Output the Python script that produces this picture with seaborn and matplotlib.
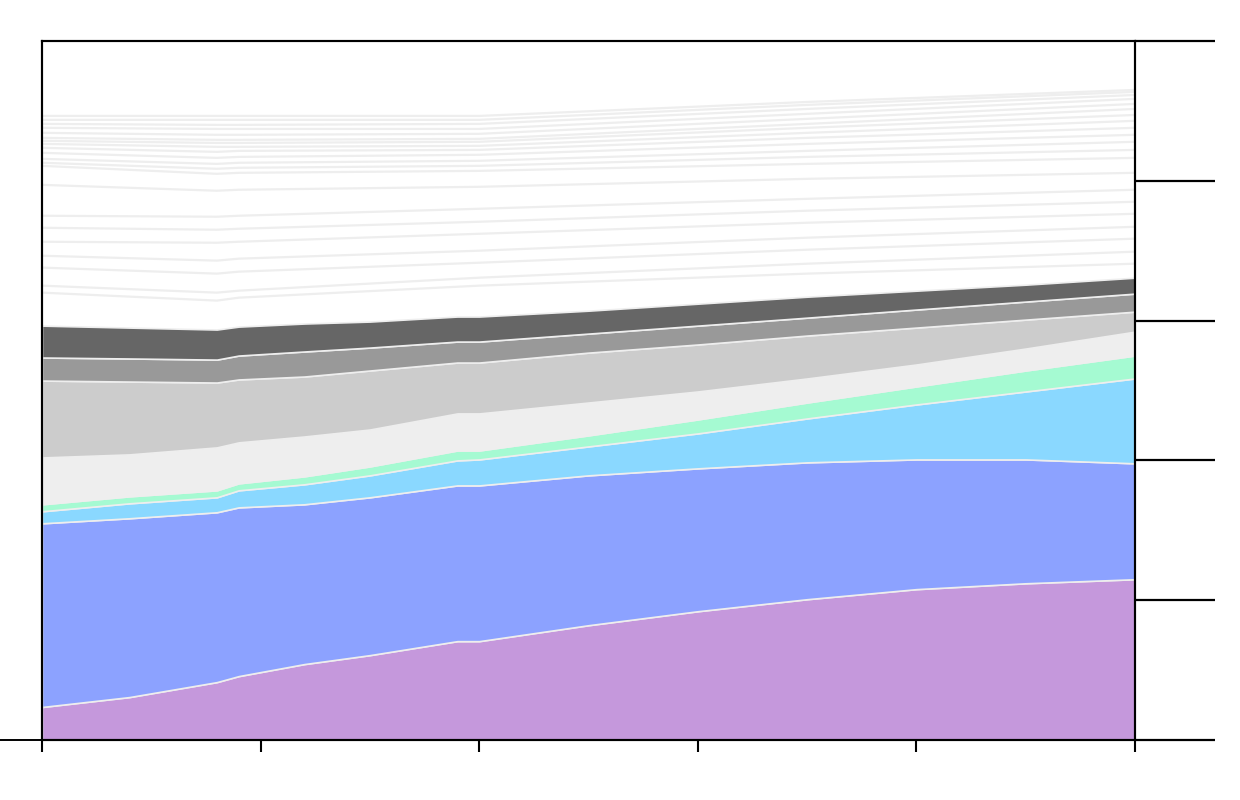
import numpy as np
import seaborn as sns
import matplotlib
matplotlib.use("Agg")
import matplotlib.pyplot as plt

sns.set_theme(style="white")

# main stacked layers (bottom to top), thickness per year
years = [0, 4, 8, 9, 12, 15, 19, 20, 25, 30, 35, 40, 45, 50]
purple = [2.36, 3.07, 4.14, 4.57, 5.43, 6.07, 7.07, 7.07, 8.21, 9.21, 10.07, 10.79, 11.21, 11.5]
blue = [13.14, 12.79, 12.15, 12.07, 11.43, 11.29, 11.14, 11.14, 10.72, 10.22, 9.79, 9.28, 8.86, 8.29]
light_blue = [0.86, 1.07, 1.07, 1.22, 1.43, 1.57, 1.79, 1.86, 2.07, 2.5, 3.14, 3.93, 4.86, 6.07]
green = [0.5, 0.5, 0.5, 0.5, 0.57, 0.64, 0.71, 0.64, 0.79, 1.0, 1.14, 1.29, 1.5, 1.64]
gray_eee = [3.35, 3.0, 3.07, 2.93, 2.85, 2.64, 2.65, 2.65, 2.35, 2.0, 1.72, 1.57, 1.57, 1.71]
gray_ccc = [5.5, 5.21, 4.64, 4.5, 4.29, 4.22, 3.64, 3.64, 3.57, 3.36, 3.07, 2.64, 2.07, 1.43]
gray_999 = [1.65, 1.65, 1.64, 1.71, 1.79, 1.64, 1.5, 1.5, 1.36, 1.35, 1.28, 1.29, 1.29, 1.29]
gray_666 = [2.28, 2.21, 2.15, 2.07, 2.0, 1.86, 1.79, 1.79, 1.64, 1.57, 1.5, 1.35, 1.21, 1.14]

colors = ["#c598dc", "#8ca2ff", "#8ad8ff", "#a5fad2", "#eeeeee", "#cccccc", "#999999", "#666666"]

# faint upper lines (cumulative levels), one row per year in upper_years
upper_years = [0, 8, 9, 20, 35, 50]
upper_levels = [
    [32.0, 32.5, 33.79, 34.64, 35.64, 36.64, 37.5, 39.71, 41.07, 41.29, 41.57, 42.0, 42.36, 42.64, 42.86, 43.07, 43.43, 43.79, 44.07, 44.36, 44.64],
    [31.43, 32.0, 33.36, 34.29, 35.57, 36.5, 37.43, 39.29, 40.5, 40.86, 41.21, 41.64, 42.07, 42.43, 42.71, 42.93, 43.29, 43.71, 44.0, 44.36, 44.64],
    [31.64, 32.14, 33.5, 34.43, 35.64, 36.57, 37.5, 39.36, 40.57, 40.93, 41.29, 41.71, 42.14, 42.43, 42.71, 42.93, 43.29, 43.71, 44.0, 44.36, 44.64],
    [32.5, 33.07, 34.14, 35.0, 36.21, 37.07, 38.0, 39.57, 40.71, 41.07, 41.43, 41.86, 42.21, 42.5, 42.79, 43.0, 43.36, 43.71, 44.07, 44.36, 44.64],
    [33.36, 34.07, 35.07, 35.93, 37.0, 37.86, 38.71, 40.14, 41.21, 41.71, 42.14, 42.64, 43.07, 43.43, 43.79, 44.07, 44.43, 44.79, 45.14, 45.43, 45.64],
    [34.07, 34.93, 35.86, 36.71, 37.64, 38.5, 39.36, 40.57, 41.64, 42.21, 42.79, 43.29, 43.79, 44.29, 44.71, 45.14, 45.5, 45.86, 46.14, 46.36, 46.5],
]

fig = plt.figure(figsize=(12.4, 8), dpi=100)
ax = fig.add_axes([42 / 1240, 60 / 800, 1093 / 1240, 699 / 800])

levels = np.array(upper_levels)
for i in range(levels.shape[1]):
    ax.plot(upper_years, levels[:, i], color="#eeeeee", lw=1.6, zorder=1)

ax.stackplot(years, purple, blue, light_blue, green, gray_eee, gray_ccc, gray_999, gray_666,
             colors=colors, edgecolor="#eeeeee", linewidth=1.2, zorder=2)

ax.set_xlim(0, 50)
ax.set_ylim(0, 50)
ax.set_xticks([0, 10, 20, 30, 40, 50])
ax.set_xticklabels([])
ax.set_yticks([0])
ax.set_yticklabels([])
ax.tick_params(axis="x", direction="out", length=8.6, width=1.5, color="black", bottom=True)
ax.tick_params(axis="y", which="both", left=True, right=False, direction="out",
               length=30.2, width=1.4, color="black")

# right-side long ticks
ax2 = ax.twinx()
ax2.set_ylim(0, 50)
ax2.set_yticks([0, 10, 20, 30, 40, 50])
ax2.set_yticklabels([])
ax2.tick_params(axis="y", right=True, left=False, direction="out", length=57.6, width=1.6, color="black")
ax2.grid(False)
ax.grid(False)

for a in (ax, ax2):
    for s in a.spines.values():
        s.set_visible(True)
        s.set_color("black")
        s.set_linewidth(1.5)

fig.savefig("out.png", dpi=100, facecolor="white")
